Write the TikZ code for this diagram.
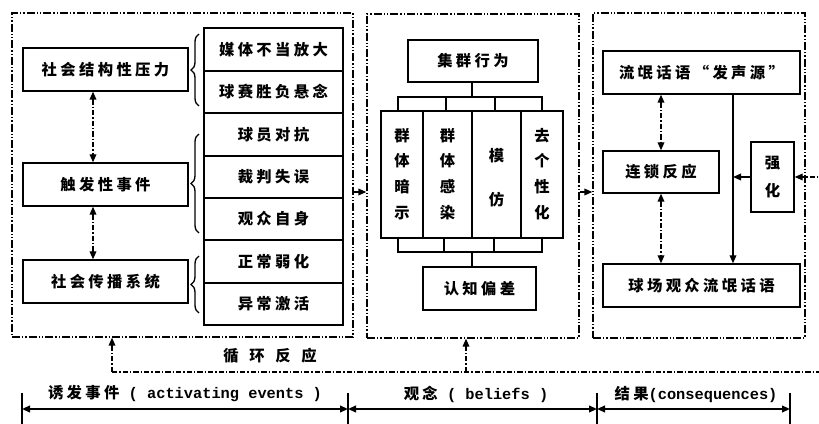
\documentclass[tikz,border=0pt]{standalone}
\usepackage{fontspec}
\setmainfont{Liberation Serif}
\newfontfamily\cjk[LetterSpace=22]{Noto Sans CJK SC}
\newfontfamily\lat{Liberation Mono}
\usetikzlibrary{arrows.meta,decorations.pathreplacing}
\newcommand{\vstack}[2]{{\def\arraystretch{#1}\begin{tabular}{@{}c@{}}#2\end{tabular}}}
\newcommand{\bx}[7][box]{%
  \pgfmathsetmacro\bxx{(#3+#5)/2}\pgfmathsetmacro\bxy{(#4+#6)/2}%
  \pgfmathsetmacro\bxw{0.75*(#5-#3)}\pgfmathsetmacro\bxh{0.75*(#6-#4)}%
  \node[#1, minimum width=\bxw pt, minimum height=\bxh pt] (#2) at (\bxx,\bxy) {#7};}
\begin{document}
\begin{tikzpicture}[x=0.75pt,y=-0.75pt,
  every node/.style={font=\cjk\bfseries\fontsize{11.5}{14}\selectfont},
  box/.style={draw, line width=1pt, inner sep=0pt},
  frame/.style={draw, line width=1pt, inner sep=0pt, dash pattern=on 6pt off 1.5pt on 1pt off 1.5pt on 1pt off 1.5pt},
  dd/.style={line width=1pt, dash pattern=on 4pt off 1.5pt on 1pt off 1.5pt},
  tip/.style={-{Triangle[length=6pt,width=5pt]}},
  dtip/.style={{Triangle[length=6pt,width=5pt]}-{Triangle[length=6pt,width=5pt]}},
  ln/.style={line width=1pt},
  brc/.style={decorate, decoration={brace, amplitude=6pt}, line width=1pt}
]
\useasboundingbox (0,0) rectangle (819,424);
% frames
\bx[frame]{f1}{12}{13}{353}{337}{}
\bx[frame]{f2}{367}{14}{579}{338}{}
\bx[frame]{f3}{593}{13}{805}{338}{}
% left column
\bx{s1}{23}{48}{188}{91}{社会结构性压力}
\bx{s2}{23}{163}{188}{206}{触发性事件}
\bx{s3}{23}{260}{188}{303}{社会传播系统}
\coordinate (ax) at (93,0);
\draw[dd, dtip] (ax |- s1.south) -- (ax |- s2.north);
\draw[dd, dtip] (ax |- s2.south) -- (ax |- s3.north);
% right stacked column
\bx{r1}{204}{28}{343}{71}{媒体不当放大}
\bx{r2}{204}{71}{343}{113}{球赛胜负悬念}
\bx{r3}{204}{113}{343}{156}{球员对抗}
\bx{r4}{204}{156}{343}{198}{裁判失误}
\bx{r5}{204}{198}{343}{240}{观众自身}
\bx{r6}{204}{240}{343}{283}{正常弱化}
\bx{r7}{204}{283}{343}{325}{异常激活}
\draw[brc] (199,106) -- (199,34);
\draw[brc] (199,233) -- (199,134);
\draw[brc] (199,313) -- (199,256);
% middle
\bx{jq}{408}{40}{538}{82}{集群行为}
\bx{c1}{381}{111}{423}{238}{\vstack{1.38}{群\\体\\暗\\示}}
\bx{c2}{423}{111}{472}{238}{\vstack{1.38}{群\\体\\感\\染}}
\bx{c3}{472}{111}{521}{238}{\vstack{2.4}{模\\仿}}
\bx{c4}{521}{111}{563}{238}{\vstack{1.38}{去\\个\\性\\化}}
\bx{rz}{423}{267}{536}{310}{认知偏差}
\coordinate (tb) at (472,97);
\coordinate (bb) at (472,252);
\draw[ln] (tb |- jq.south) -- (tb);
\draw[ln] (398,111) -- (398,97) -- (542,97) -- (542,111);
\draw[ln] (446,97) -- (446,111);
\draw[ln] (495,97) -- (495,111);
\draw[ln] (398,238) -- (398,252) -- (542,252) -- (542,238);
\draw[ln] (444,238) -- (444,252);
\draw[ln] (494,238) -- (494,252);
\draw[ln] (bb) -- (bb |- rz.north);
% right
\bx{fs}{603}{51}{800}{94}{流氓话语“发声源”}
\bx{ls}{603}{151}{719}{193}{连锁反应}
\bx{qh}{751}{142}{794}{212}{\vstack{1.5}{强\\化}}
\bx{qc}{603}{264}{800}{307}{球场观众流氓话语}
\coordinate (vx) at (733,0);
\draw[ln, tip] (vx |- fs.south) -- (vx |- qc.north);
\draw[ln, tip] (qh.west) -- (vx |- qh.west);
\draw[dd, dtip] (ls.north |- fs.south) -- (ls.north);
\draw[dd, dtip] (ls.south) -- (ls.south |- qc.north);
% arrows between frames
\coordinate (ym) at (0,192);
\draw[ln, tip] (f1.east |- ym) -- (f2.west |- ym);
\draw[ln, tip] (f2.east |- ym) -- (f3.west |- ym);
% loop
\coordinate (lp1) at (112,372);
\coordinate (lp2) at (466,372);
\coordinate (rE) at (830,372);
\draw[dd, tip] (lp1) -- (lp1 |- f1.south);
\draw[dd, tip] (lp2) -- (lp2 |- f2.south);
\draw[dd, tip] (lp1) -- (rE) |- (qh.east);
\node (loop) at (270,356) {循\hspace{8pt}环\hspace{8pt}反\hspace{8pt}应};
% timeline
\coordinate (t1) at (22,409);
\coordinate (t2) at (348,409);
\coordinate (t3) at (597,409);
\coordinate (t4) at (790,409);
\foreach \t in {t1,t2,t3,t4} {\draw[line width=1pt] ([yshift=12pt]\t) -- ([yshift=-11pt]\t);}
\draw[line width=1.3pt, dtip] (t1) -- (t2);
\draw[line width=1.3pt, dtip] (t2) -- (t3);
\draw[line width=1.3pt, dtip] (t3) -- (t4);
\node (l1) at (185,394) {诱发事件{\lat\bfseries\ ( activating events )}};
\node (l2) at (476,394) {观念{\lat\bfseries\ ( beliefs )}};
\node (l3) at (696,394) {结果{\lat\bfseries (consequences)}};
\end{tikzpicture}
\end{document}
